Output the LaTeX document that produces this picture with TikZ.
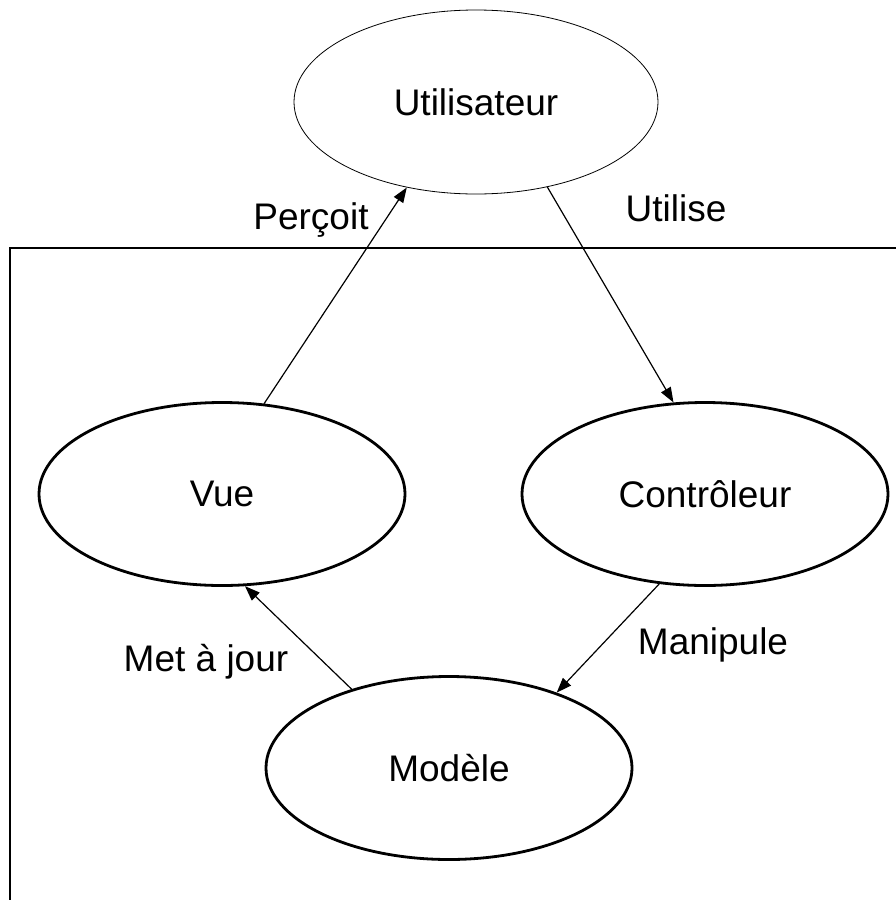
\documentclass[tikz,border=0pt]{standalone}
\usepackage{fontspec}
\setmainfont{Liberation Sans}
\usetikzlibrary{shapes.geometric,arrows.meta}
\begin{document}
\begin{tikzpicture}[x=1pt,y=-1pt,
  every node/.style={font=\fontsize{37}{44}\selectfont},
  bubble/.style={ellipse,draw,line width=2.8pt,inner sep=0pt,minimum width=366pt,minimum height=183pt},
  thinbubble/.style={ellipse,draw,line width=0.8pt,inner sep=0pt,minimum width=364pt,minimum height=184pt},
  conn/.style={line width=1.2pt,-{Triangle[length=15pt,width=11pt]}},
  lbl/.style={inner sep=0pt}]
\useasboundingbox (0,0) rectangle (896,900);
\draw[line width=2.6pt] (10,900) -- (10,248) -- (896,248);
\node[thinbubble] (user) at (476,102) {Utilisateur};
\node[bubble] (vue) at (222,494) {Vue};
\node[bubble] (ctrl) at (705,494) {Contrôleur};
\node[bubble] (mod) at (449,768) {Modèle};
\draw[conn] (vue.65) -- (user.231);
\draw[conn] (user.310.7) -- (ctrl.109);
\draw[conn] (ctrl.243.7) -- (mod.35.5);
\draw[conn] (mod.141.8) -- (vue.284.8);
\node[lbl] (lp) at (311,220) {Perçoit};
\node[lbl] (lu) at (676,208) {Utilise};
\node[lbl] (lm) at (713,645) {Manipule};
\node[lbl] (lj) at (206,662) {Met à jour};
\end{tikzpicture}
\end{document}
